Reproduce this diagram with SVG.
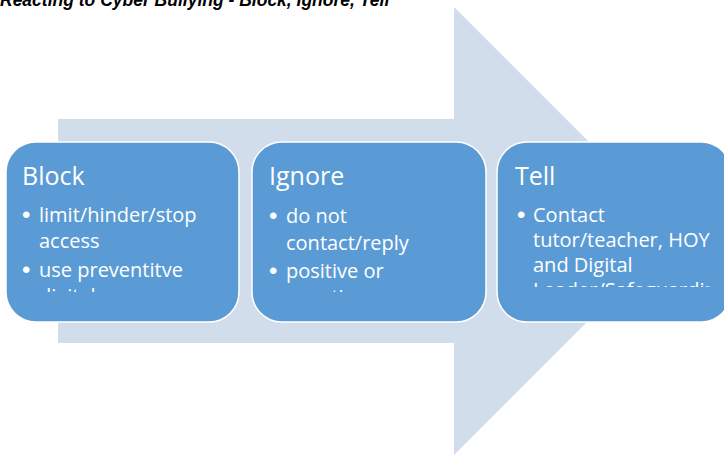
<svg xmlns="http://www.w3.org/2000/svg" width="724" height="455" viewBox="0 0 724 455">
<style>
.title{font-family:"Liberation Sans",Arial,sans-serif;font-weight:bold;font-style:italic;font-size:17.5px;fill:#000}
.box{fill:#5B9BD5;stroke:#FFFFFF;stroke-width:1.5}
.h{font-family:"Open Sans","Liberation Sans",sans-serif;font-size:25px;fill:#FFFFFF}
.b{font-family:"Open Sans","Liberation Sans",sans-serif;font-size:20px;fill:#FFFFFF}
.d{font-family:"Liberation Sans",Arial,sans-serif;font-size:24px;fill:#FFFFFF}
</style>
<defs>
<clipPath id="c1"><rect x="6" y="142" width="233" height="150"/></clipPath>
<clipPath id="c2"><rect x="252" y="142" width="234" height="150"/></clipPath>
<clipPath id="c3"><rect x="497" y="142" width="213" height="145"/></clipPath>
</defs>
<rect width="724" height="455" fill="#FFFFFF"/>
<text class="title" x="0" y="5.5">Reacting to Cyber Bullying - Block, Ignore, Tell</text>
<g id="arrow">
<polygon points="58,119 454,119 454,7 678,231 454,455 454,343 58,343" fill="#D2DDEC"/>
</g>
<g id="connectors"></g>
<g id="block">
<rect class="box" x="6" y="142" width="233" height="180" rx="30"/>
<text class="h" x="22" y="185">Block</text>
<g clip-path="url(#c1)">
<text class="d" x="22" y="223">•</text>
<text class="b" x="39" y="222">limit/hinder/stop</text>
<text class="b" x="39" y="248">access</text>
<text class="d" x="22" y="278">•</text>
<text class="b" x="39" y="277">use preventitve</text>
<text class="b" x="39" y="303">digital measures</text>
</g>
</g>
<g id="ignore">
<rect class="box" x="252" y="142" width="234" height="180" rx="30"/>
<text class="h" x="269" y="185">Ignore</text>
<g clip-path="url(#c2)">
<text class="d" x="269" y="224">•</text>
<text class="b" x="286" y="223">do not</text>
<text class="b" x="286" y="250">contact/reply</text>
<text class="d" x="269" y="279">•</text>
<text class="b" x="286" y="278">positive or</text>
<text class="b" x="286" y="304">negative</text>
</g>
</g>
<g id="tell">
<rect class="box" x="497" y="142" width="234" height="180" rx="30"/>
<text class="h" x="515" y="185">Tell</text>
<g clip-path="url(#c3)">
<text class="d" x="517" y="223">•</text>
<text class="b" x="533" y="222">Contact</text>
<text class="b" x="533" y="247">tutor/teacher, HOY</text>
<text class="b" x="533" y="272">and Digital</text>
<text class="b" x="533" y="297">Leader/Safeguarding</text>
</g>
</g>
</svg>
